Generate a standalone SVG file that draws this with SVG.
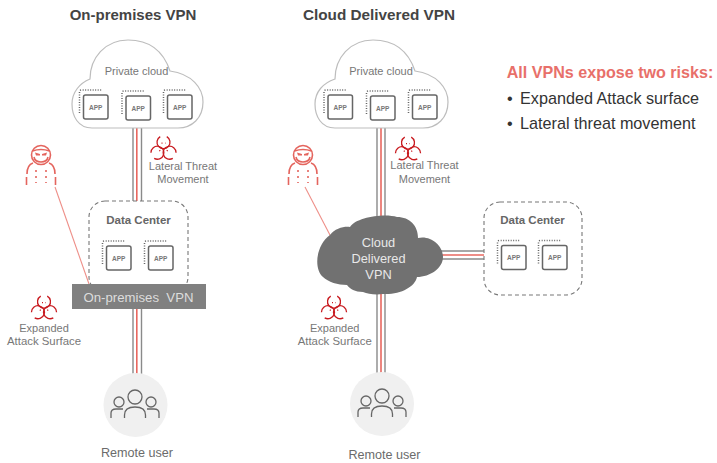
<svg xmlns="http://www.w3.org/2000/svg" width="717" height="463" viewBox="0 0 717 463">
<style>
text{font-family:"Liberation Sans",Arial,sans-serif;fill:#6b6b6b;text-anchor:middle}
.h{font-weight:bold;fill:#444}
.s{font-size:11px;fill:#777}
.sm{font-size:11px;fill:#777}
.lg{font-size:11.400px;fill:#777}
.ru{font-size:12.600px}
.b{font-size:11.500px;font-weight:bold;fill:#666}
.cl{fill:#fff;stroke:#bdbdbd;stroke-width:1.2}
.dash{fill:#fff;stroke:#777;stroke-width:1.1;stroke-dasharray:4 3}
.g{stroke:#8a8a8a;stroke-width:1.4;fill:none}
.r{stroke:#e8675f;stroke-width:1.6;fill:none}
.w{fill:none;stroke:#e4655e;stroke-width:1.6}
.bio{fill:none;stroke:#c8191e;stroke-width:1.3}
.ln{stroke:#ee8f88;stroke-width:1.1;fill:none}
.appb{fill:#fff;stroke:#666;stroke-width:1.5}
.dot{fill:none;stroke:#666;stroke-width:1.5;stroke-dasharray:1 1.5}
.appt{font-size:6.500px;font-weight:bold;fill:#777}
.n{font-size:16.200px;fill:#333;text-anchor:start}
.vt{font-size:12.800px;fill:#e8e8e8}
</style>
<defs>
<g id="app">
<path class="dot" d="M-12 6V-15Q-12-17-10-17H11"/>
<rect class="appb" x="-8" y="-12" width="24.500" height="24" rx="2"/>
<text class="appt" x="4.200" y="2.500">APP</text>
</g>
<g id="bio">
<g transform="translate(0 1.700)">
<path id="lobe" class="bio" d="M-3.250-12.630A6.500 6.500 0 1 0 3.250-12.630"/>
<use href="#lobe" transform="rotate(120)"/>
<use href="#lobe" transform="rotate(240)"/>
<path class="bio" stroke-width="1.100" stroke-dasharray="1 2.500" d="M-2-6H2M-4 1L-2 4M4 1L2 4"/>
</g>
</g>
<g id="hacker">
<circle class="w" cx="0" cy="-10" r="9.500"/>
<path class="w" stroke-width="1.400" d="M-8.500-14Q0-17 8.500-14"/>
<path fill="#e4655e" d="M-6-12.500L-1-11V-9.500H-5ZM6-12.500L1-11V-9.500H5Z"/>
<path class="w" d="M-7-8Q-6-3 0-3T7-8"/>
<path class="w" stroke-width="1.800" d="M-8-2Q-14 0-14 9M8-2Q14 0 14 9M-14.500 12V20M14.500 12V20"/>
<path class="w" stroke-width="2" stroke-dasharray="2 4" d="M-5 5V18M5 5V18"/>
</g>
<g id="users">
<circle cx="0" cy="-10" r="7" fill="none" stroke="#666" stroke-width="1.300"/>
<circle cx="-16" cy="-5" r="5" fill="none" stroke="#666" stroke-width="1.300"/>
<circle cx="16" cy="-5" r="5" fill="none" stroke="#666" stroke-width="1.300"/>
<path d="M-10.500 11V8Q-10.500 0 0 0T10.500 8V11M-24 11V6Q-24 2-19 2H-12M24 11V6Q24 2 19 2H12" fill="none" stroke="#666" stroke-width="1.300"/>
</g>
</defs>

<g id="connectors">
<path class="g" d="M133 128V290M141.500 128V290M133 305V375M141.500 305V375"/>
<path class="r" d="M136.800 128V375"/>
<path class="g" d="M377 125V375M385 125V375"/>
<path class="r" d="M381 125V375"/>
<path class="g" d="M430 251H484M430 259H484"/>
<path class="r" d="M430 255H485"/>
<path class="ln" d="M55 187L89 284"/>
<path class="ln" d="M305 187L331 237"/>
</g>

<g id="title-left"><text class="h" x="133" y="20" font-size="15">On-premises VPN</text></g>
<g id="title-right"><text class="h" x="379" y="20" font-size="15.300">Cloud Delivered VPN</text></g>

<g id="private-cloud-left">
<path class="cl" d="M92 128C78 128 72 116 72 104C72 92 80 83 90 79C90 58 105 40 128 40C148 40 163 50 170 71C192 74 203 88 203 102C203 118 192 128 178 128Z"/>
<text class="s" x="136.500" y="75">Private cloud</text>
<use href="#app" x="91.500" y="107"/><use href="#app" x="134" y="108"/><use href="#app" x="175.500" y="107"/>
</g>
<g id="private-cloud-right">
<path class="cl" d="M335 128C321 128 315 116 315 104C315 92 323 83 335 79C335 58 350 40 373 40C393 40 408 50 415 71C437 74 448 88 448 102C448 118 437 128 423 128Z"/>
<text class="s" x="381" y="75">Private cloud</text>
<use href="#app" x="336" y="107"/><use href="#app" x="378.500" y="108"/><use href="#app" x="420.500" y="107"/>
</g>

<g id="risk-lateral-left"><use href="#bio" x="163.500" y="147.500"/><text class="sm" x="183" y="169.500">Lateral Threat</text><text class="sm" x="183" y="183">Movement</text></g>
<g id="risk-lateral-right"><use href="#bio" x="408" y="148"/><text class="sm" x="424.500" y="169">Lateral Threat</text><text class="sm" x="424.500" y="183">Movement</text></g>
<g id="hacker-left"><use href="#hacker" x="41" y="165"/></g>
<g id="hacker-right"><use href="#hacker" x="303" y="165"/></g>

<g id="data-center-left">
<rect class="dash" x="89" y="201" width="99" height="92" rx="16"/>
<text class="b" x="138.500" y="224">Data Center</text>
<use href="#app" x="114.500" y="258"/><use href="#app" x="156.500" y="258"/>
</g>
<g id="vpn-left">
<rect x="72" y="284" width="134" height="25" fill="#808080"/>
<text x="138.500" y="302" font-size="13.200" style="fill:#ddd;white-space:pre">On-premises  VPN</text>
</g>
<g id="risk-expanded-left"><use href="#bio" x="44" y="307"/><text class="sm" x="44" y="332">Expanded</text><text class="lg" x="44" y="345">Attack Surface</text></g>
<g id="risk-expanded-right"><use href="#bio" x="334" y="307"/><text class="sm" x="334.700" y="332">Expanded</text><text class="lg" x="334.700" y="345">Attack Surface</text></g>

<g id="vpn-cloud">
<path fill="#717171" d="M323 277C314 270 315 246 330 235C335 228 345 226 350 227C356 217 385 213 397 217C410 217 418 226 418 238C430 235 443 245 443 257C443 268 430 277 417 277C415 287 400 295 383 294C375 295 368 294 363 292C355 292 350 289 347 285C338 285 328 282 323 277Z"/>
<text class="vt" x="378.500" y="247">Cloud</text>
<text class="vt" x="378.500" y="263">Delivered</text>
<text class="vt" x="378.500" y="279">VPN</text>
</g>
<g id="data-center-right">
<rect class="dash" x="484" y="202" width="98" height="93" rx="16"/>
<text class="b" x="532.500" y="224">Data Center</text>
<use href="#app" x="509.500" y="257.500"/><use href="#app" x="550.500" y="257.500"/>
</g>

<g id="user-left">
<circle cx="135.500" cy="405" r="32" fill="#f0f0f0"/>
<use href="#users" x="135" y="407"/>
<text class="ru" x="137" y="457">Remote user</text>
</g>
<g id="user-right">
<circle cx="382" cy="404" r="32" fill="#f0f0f0"/>
<use href="#users" x="382" y="406"/>
<text class="ru" x="384.500" y="459">Remote user</text>
</g>

<g id="risks-note">
<text x="610" y="78" font-size="16.100" font-weight="bold" style="fill:#e8706a">All VPNs expose two risks:</text>
<text class="n" x="507" y="104">•</text>
<text class="n" x="520" y="104">Expanded Attack surface</text>
<text class="n" x="507" y="129">•</text>
<text class="n" x="520" y="129">Lateral threat movement</text>
</g>
</svg>
